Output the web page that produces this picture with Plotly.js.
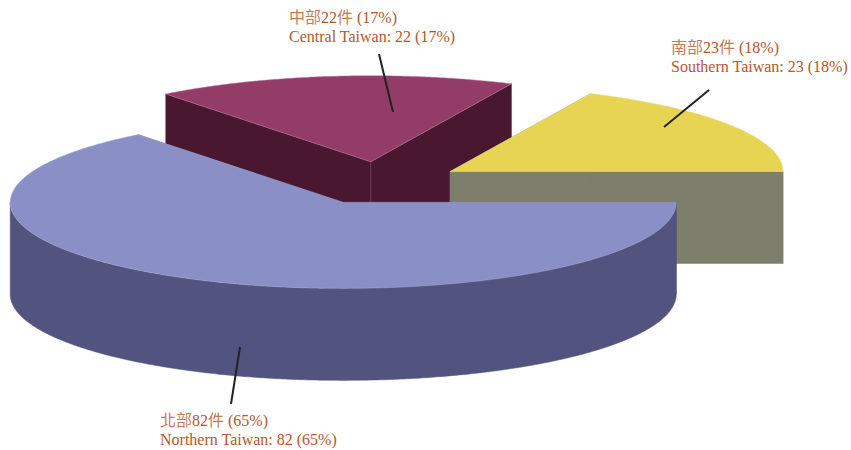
<!DOCTYPE html>
<html><head><meta charset="utf-8">
<script src="https://cdn.plot.ly/plotly-3.0.1.min.js"></script>
<style>html,body{margin:0;padding:0;background:#fff}#c{width:851px;height:450px}</style>
</head><body><div id="c"></div>
<script>
const categoriesZh = ['南部', '中部', '北部'];
const categoriesEn = ['Southern Taiwan', 'Central Taiwan', 'Northern Taiwan'];
const values = [23, 22, 82];
const topColors = ['#E6D452', '#943C68', '#8A8FC6'];
const sideColors = ['#7E7E6C', '#491830', '#52547F'];
const edgeColors = ['#EFE38A', '#B57A98', '#A9ADD6'];

// pie geometry in canvas units
const CX = 380, CY = 183.1, RX = 333, RY = 86, DEPTH = 92, EXPLODE = 0.25;
// small angle corrections of the slice boundaries, in degrees
const boundaryNudge = [-0.2, 0.45];
// label anchors (two lines) and leader lines (canvas units)
const labelAt = [[669, 48, 67], [287, 18, 36.5], [158, 421, 439.5]];
const leaders = [[709, 90, 664, 127], [379, 54, 393, 112], [240, 347, 231, 404]];

const total = values.reduce((a, b) => a + b, 0);
const D2R = Math.PI / 180;
let start = 0, acc = 0;
const slices = values.map((v, i) => {
  acc += v;
  const end = i < values.length - 1 ? acc / total * 360 + boundaryNudge[i] : 360;
  const mid = acc / total * 360 - v / total * 180;
  const s = { a0: start, a1: end,
    cx: CX + EXPLODE * RX * Math.cos(mid * D2R),
    cy: CY - EXPLODE * RY * Math.sin(mid * D2R), i };
  start = end;
  return s;
});
const rim = (s, a, dy) => [s.cx + RX * Math.cos(a * D2R), s.cy - RY * Math.sin(a * D2R) + (dy || 0)];
function arc(s, a0, a1, dy) {
  const n = Math.max(2, Math.ceil(Math.abs(a1 - a0) / 0.5)), out = [];
  for (let k = 0; k <= n; k++) out.push(rim(s, a0 + (a1 - a0) * k / n, dy));
  return out;
}
function poly(pts, fill, line, lw) {
  return { type: 'scatter', mode: 'lines', x: pts.map(p => p[0]), y: pts.map(p => p[1]),
    fill: 'toself', fillcolor: fill, line: { color: line, width: lw, simplify: false },
    hoverinfo: 'skip', showlegend: false };
}
function wall(s, a, color, line) {
  const r = rim(s, a);
  return poly([[s.cx, s.cy], r, [r[0], r[1] + DEPTH], [s.cx, s.cy + DEPTH], [s.cx, s.cy]], color, line, 0.5);
}
const traces = [];
// far to near: central, southern, northern
[slices[1], slices[0], slices[2]].forEach(s => {
  const side = sideColors[s.i], top = topColors[s.i], edge = edgeColors[s.i];
  traces.push(wall(s, s.a0, side, s.i === 1 ? '#6B3A55' : side));
  traces.push(wall(s, s.a1, side, s.i === 1 ? '#6B3A55' : side));
  // outer rim: only the part facing the viewer (lower half of the ellipse)
  const lo = Math.max(s.a0, 180), hi = Math.min(s.a1, 360);
  if (hi > lo) {
    const up = arc(s, lo, hi, 0), down = arc(s, hi, lo, DEPTH);
    traces.push(poly(up.concat(down, [up[0]]), side, side, 0.5));
  }
  const wedge = [[s.cx, s.cy]].concat(arc(s, s.a0, s.a1, 0), [[s.cx, s.cy]]);
  traces.push(poly(wedge, top, edge, 0.5));
});

const labelFont = { family: '"Liberation Serif","Noto Sans CJK TC",serif', size: 16, color: '#B5562E' };
const annotations = [];
slices.forEach((s, i) => {
  const pct = Math.round(values[i] / total * 100);
  const lines = [`<span style="color:#C47B58">${categoriesZh[i]}</span>${values[i]}<span style="color:#C47B58">件</span> (${pct}%)`,
                 `${categoriesEn[i]}: ${values[i]} (${pct}%)`];
  lines.forEach((text, k) => annotations.push({
    xref: 'x', yref: 'y', x: labelAt[i][0], y: labelAt[i][k + 1], xanchor: 'left', yanchor: 'middle',
    align: 'left', showarrow: false, text, font: labelFont }));
});
const shapes = leaders.map(l => ({ type: 'line', xref: 'x', yref: 'y', x0: l[0], y0: l[1], x1: l[2], y1: l[3],
  line: { color: '#222222', width: 2 } }));

Plotly.newPlot('c', traces, {
  width: 851, height: 450, margin: { l: 0, r: 0, t: 0, b: 0 },
  paper_bgcolor: '#fff', plot_bgcolor: '#fff', showlegend: false,
  xaxis: { range: [0, 851], visible: false, fixedrange: true },
  yaxis: { range: [450, 0], visible: false, fixedrange: true },
  annotations, shapes
}, { staticPlot: true, displayModeBar: false });
</script></body></html>
